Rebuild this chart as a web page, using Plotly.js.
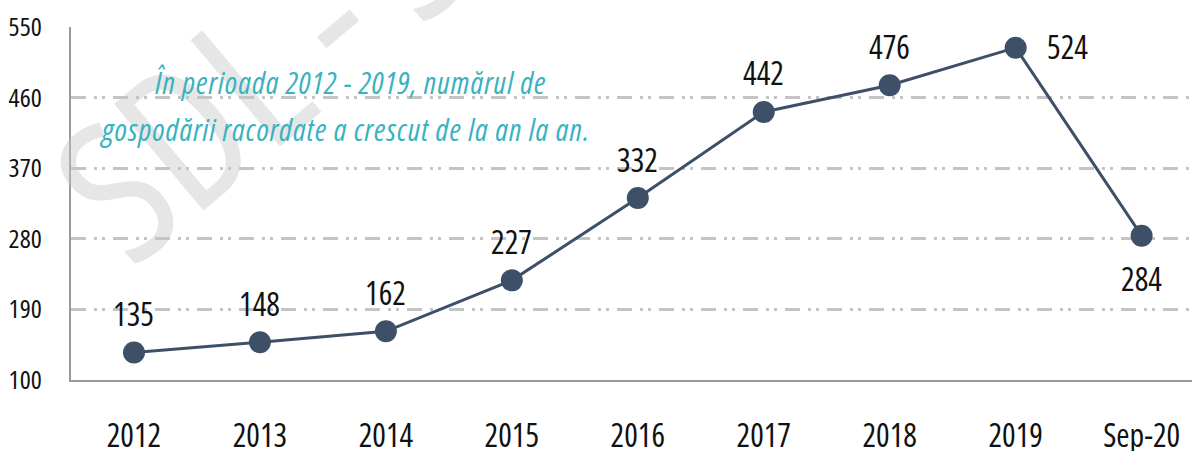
<!DOCTYPE html>
<html>
<head>
<meta charset="utf-8">
<script src="https://cdn.plot.ly/plotly-3.0.1.min.js"></script>
<style>
html,body{margin:0;padding:0;background:#fff;}
#chart{width:1192px;height:451px;}
#chart text{font-stretch:condensed !important;}
#chart g.annotation[data-index="10"] text,
#chart g.annotation[data-index="11"] text,
#chart text[style*="rgb(56, 178, 192)"]{letter-spacing:1.1px !important;}
</style>
</head>
<body>
<div id="chart"></div>
<script>
const categories = ["2012","2013","2014","2015","2016","2017","2018","2019","Sep-20"];
const values = [135,148,162,227,332,442,476,524,284];
const labelText = ["135","148","162","227","332","442","476","524","284"];
const yTicks = [100,190,280,370,460,550];
const noteLines = ["În perioada 2012 - 2019, numărul de","gospodării racordate a crescut de la an la an."];

const FONT = "'Open Sans', sans-serif";
const lineColor = "#3d5068";

const trace = {
  x: categories, y: values, type: "scatter", mode: "lines+markers",
  line: {color: lineColor, width: 3},
  marker: {color: lineColor, size: 22},
  hoverinfo: "skip", showlegend: false, cliponaxis: false
};

const annotations = [];
// watermark (index 0)
annotations.push({
  xref: "paper", yref: "paper", x: 0.225, y: 1.045, xanchor: "center", yanchor: "middle",
  text: "SDL - SDL", showarrow: false, textangle: -40,
  font: {family: FONT, size: 195, color: "rgba(200,200,200,0.45)", weight: 400}
});
// data labels (index 1-9)
categories.forEach((c, i) => {
  const last = i === categories.length - 1;
  const peak = i === 7;
  annotations.push({
    x: i, y: values[i], xref: "x", yref: "y", text: labelText[i], showarrow: false,
    font: {family: FONT, size: 32, color: "#111"},
    xshift: peak ? 52 : 0,
    yshift: last ? -43 : (peak ? 1 : 39)
  });
});
// note (index 10-11)
const noteX = [0.2498, 0.2444];
const noteY = [0.844, 0.711];
noteLines.forEach((t, i) => {
  annotations.push({
    xref: "paper", yref: "paper", x: noteX[i], y: noteY[i], xanchor: "center", yanchor: "middle",
    text: t, showarrow: false,
    font: {family: FONT, size: 30.5, color: "#38b2c0", style: "italic"}
  });
});

const layout = {
  width: 1192, height: 451,
  margin: {l: 71, r: 0, t: 27, b: 71},
  paper_bgcolor: "#fff", plot_bgcolor: "#fff",
  xaxis: {
    type: "category", range: [-0.5, 8.4], showgrid: false, zeroline: false,
    showline: true, linecolor: "#9a9a9a", linewidth: 2,
    ticks: "", tickfont: {family: FONT, size: 32, color: "#111"},
    ticklabelstandoff: 27, fixedrange: true
  },
  yaxis: {
    range: [99.8, 550.4], tickvals: yTicks, ticktext: yTicks.map(String),
    showgrid: true, gridcolor: "#c4c4c4", gridwidth: 3,
    griddash: "15px,8px,3px,5px,3px,8px",
    zeroline: false, showline: true, linecolor: "#9a9a9a", linewidth: 2,
    ticks: "", tickfont: {family: FONT, size: 26, color: "#111"},
    ticklabelstandoff: 22, fixedrange: true
  },
  annotations: annotations,
  font: {family: FONT}
};

Plotly.newPlot("chart", [trace], layout, {displayModeBar: false, staticPlot: true});
</script>
</body>
</html>
